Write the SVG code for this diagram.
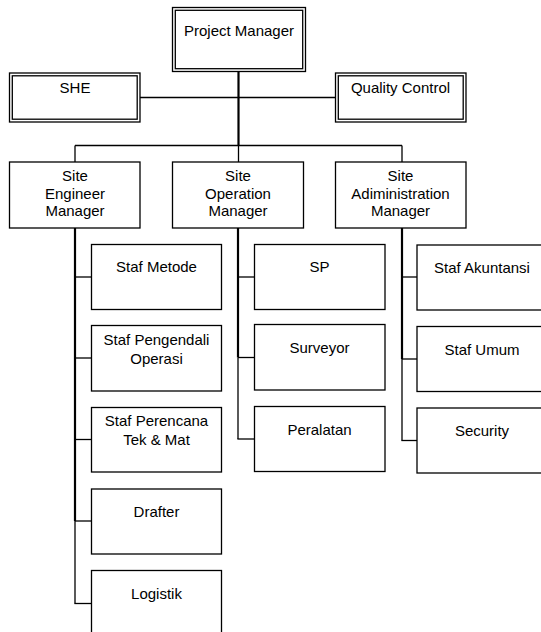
<svg xmlns="http://www.w3.org/2000/svg" width="541" height="632" viewBox="0 0 541 632">
  <style>
    .box { fill: #ffffff; stroke: #000000; stroke-width: 1.3; }
    .dbl { fill: none; stroke: #000000; stroke-width: 1.3; }
    .ln { fill: none; stroke: #000000; stroke-width: 1.3; }
    .thick { fill: none; stroke: #000000; stroke-width: 2.2; }
    text { font-family: "Liberation Sans", Arial, sans-serif; font-size: 15px; fill: #000000; text-anchor: middle; }
  </style>
  <rect width="541" height="632" fill="#ffffff"/>

  <g id="connectors">
    <!-- top tier -->
    <line class="thick" x1="238.5" y1="71" x2="238.5" y2="145.5"/>
    <line class="ln" x1="140" y1="97.5" x2="335" y2="97.5"/>
    <line class="ln" x1="75" y1="145.5" x2="402" y2="145.5"/>
    <line class="ln" x1="75" y1="145.5" x2="75" y2="162"/>
    <line class="ln" x1="238.5" y1="145.5" x2="238.5" y2="162"/>
    <line class="ln" x1="402" y1="145.5" x2="402" y2="162"/>
    <!-- engineer branch -->
    <line class="thick" x1="75" y1="228" x2="75" y2="521"/>
    <line class="ln" x1="75" y1="521" x2="75" y2="603.5"/>
    <line class="ln" x1="75" y1="277" x2="91" y2="277"/>
    <line class="ln" x1="75" y1="358" x2="91" y2="358"/>
    <line class="ln" x1="75" y1="439.5" x2="91" y2="439.5"/>
    <line class="ln" x1="75" y1="521" x2="91" y2="521"/>
    <line class="ln" x1="74.4" y1="603.5" x2="91" y2="603.5"/>
    <!-- operation branch -->
    <line class="thick" x1="238" y1="228" x2="238" y2="357.5"/>
    <line class="ln" x1="238" y1="357.5" x2="238" y2="439"/>
    <line class="ln" x1="238" y1="277" x2="254" y2="277"/>
    <line class="ln" x1="238" y1="357.5" x2="254" y2="357.5"/>
    <line class="ln" x1="237.4" y1="439" x2="254" y2="439"/>
    <!-- administration branch -->
    <line class="thick" x1="402" y1="228" x2="402" y2="359"/>
    <line class="ln" x1="402" y1="359" x2="402" y2="440.5"/>
    <line class="ln" x1="402" y1="277" x2="417" y2="277"/>
    <line class="ln" x1="402" y1="359" x2="417" y2="359"/>
    <line class="ln" x1="401.4" y1="440.5" x2="417" y2="440.5"/>
  </g>

  <g id="project-manager">
    <rect class="dbl" x="172.5" y="7.5" width="133" height="64"/>
    <rect class="dbl" x="175.3" y="10.3" width="127.4" height="58.4"/>
    <text x="239" y="36">Project Manager</text>
  </g>

  <g id="she">
    <rect class="dbl" x="9.5" y="73" width="130.5" height="49"/>
    <rect class="dbl" x="12.3" y="75.8" width="124.9" height="43.4"/>
    <text x="75" y="93">SHE</text>
  </g>

  <g id="quality-control">
    <rect class="dbl" x="335.5" y="73" width="130.5" height="49"/>
    <rect class="dbl" x="338.3" y="75.8" width="124.9" height="43.4"/>
    <text x="400.5" y="93">Quality Control</text>
  </g>

  <g id="site-engineer-manager">
    <rect class="box" x="9.5" y="162" width="130.5" height="66"/>
    <text x="75" y="181">Site</text>
    <text x="75" y="198.5">Engineer</text>
    <text x="75" y="216">Manager</text>
  </g>

  <g id="site-operation-manager">
    <rect class="box" x="172.5" y="162" width="131" height="66"/>
    <text x="238" y="181">Site</text>
    <text x="238" y="198.5">Operation</text>
    <text x="238" y="216">Manager</text>
  </g>

  <g id="site-administration-manager">
    <rect class="box" x="335.5" y="162" width="130.5" height="66"/>
    <text x="400.5" y="181">Site</text>
    <text x="400.5" y="198.5">Adiministration</text>
    <text x="400.5" y="216">Manager</text>
  </g>

  <g id="staf-metode">
    <rect class="box" x="91.5" y="244.5" width="130" height="65"/>
    <text x="156.5" y="272">Staf Metode</text>
  </g>
  <g id="staf-pengendali-operasi">
    <rect class="box" x="91.5" y="325.5" width="130" height="65.5"/>
    <text x="156.5" y="345">Staf Pengendali</text>
    <text x="156.5" y="363.5">Operasi</text>
  </g>
  <g id="staf-perencana">
    <rect class="box" x="91.5" y="407.5" width="130" height="64.5"/>
    <text x="156.5" y="426">Staf Perencana</text>
    <text x="156.5" y="444.5">Tek &amp; Mat</text>
  </g>
  <g id="drafter">
    <rect class="box" x="91.5" y="489" width="130" height="65"/>
    <text x="156.5" y="517">Drafter</text>
  </g>
  <g id="logistik">
    <rect class="box" x="91.5" y="570.5" width="130" height="70"/>
    <text x="156.5" y="598.5">Logistik</text>
  </g>

  <g id="sp">
    <rect class="box" x="254.5" y="244.5" width="130.5" height="65"/>
    <text x="319.5" y="272">SP</text>
  </g>
  <g id="surveyor">
    <rect class="box" x="254.5" y="324.5" width="130.5" height="65.5"/>
    <text x="319.5" y="353">Surveyor</text>
  </g>
  <g id="peralatan">
    <rect class="box" x="254.5" y="406.5" width="130.5" height="65"/>
    <text x="319.5" y="434.5">Peralatan</text>
  </g>

  <g id="staf-akuntansi">
    <rect class="box" x="417" y="245" width="131" height="65"/>
    <text x="482" y="272.5">Staf Akuntansi</text>
  </g>
  <g id="staf-umum">
    <rect class="box" x="417" y="326.5" width="131" height="65"/>
    <text x="482" y="354.5">Staf Umum</text>
  </g>
  <g id="security">
    <rect class="box" x="417" y="408" width="131" height="65"/>
    <text x="482" y="436">Security</text>
  </g>
</svg>
